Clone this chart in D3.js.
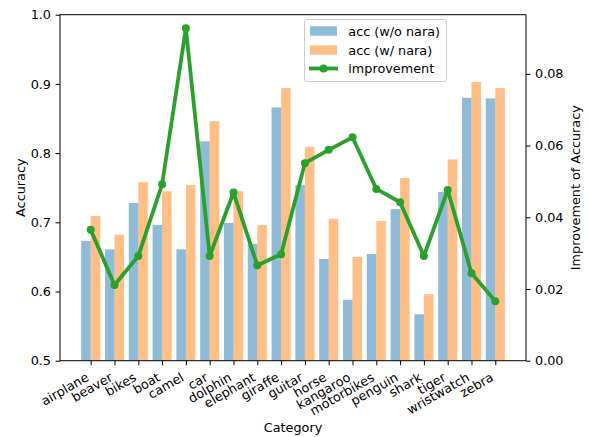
<!DOCTYPE html>
<html>
<head>
<meta charset="utf-8">
<script src="https://cdn.jsdelivr.net/npm/d3@7"></script>
<style>
  html, body { margin: 0; padding: 0; background: #fff; }
  svg { display: block; }
  text { font-family: "DejaVu Sans", sans-serif; fill: #000; }
</style>
</head>
<body>
<svg id="chart" width="589" height="437"></svg>
<script>
// Per-category accuracy with and without nara, plus the improvement
const categories = ["airplane", "beaver", "bikes", "boat", "camel", "car", "dolphin", "elephant",
  "giraffe", "guitar", "horse", "kangaroo", "motorbikes", "penguin", "shark", "tiger",
  "wristwatch", "zebra"];
const accWithout = [0.673, 0.661, 0.728, 0.696, 0.661, 0.817, 0.699, 0.669,
  0.866, 0.754, 0.647, 0.588, 0.654, 0.719, 0.567, 0.744, 0.880, 0.879];
const accWith = [0.709, 0.682, 0.758, 0.745, 0.754, 0.846, 0.745, 0.696,
  0.894, 0.809, 0.705, 0.650, 0.702, 0.764, 0.596, 0.791, 0.903, 0.894];
const improvement = [0.0365, 0.0211, 0.0292, 0.0492, 0.0927, 0.0292, 0.0469, 0.0266,
  0.0297, 0.0551, 0.0588, 0.0623, 0.0479, 0.0442, 0.0292, 0.0476, 0.0244, 0.0166];
const accTicks = [0.5, 0.6, 0.7, 0.8, 0.9, 1.0];
const impTicks = [0.00, 0.02, 0.04, 0.06, 0.08];
const seriesNames = ["acc (w/o nara)", "acc (w/ nara)", "improvement"];

const FONT = 12.8;
const plot = { left: 60, right: 526, top: 14.7, bottom: 360.7 };
const barW = 0.4;
const colBlue = "#1f77b4", colOrange = "#ff7f0e", colGreen = "#2ca02c";

const svg = d3.select("#chart");

const x = d3.scaleLinear().domain([-1.29, 18.29]).range([plot.left, plot.right]);
const yL = d3.scaleLinear().domain([0.5, 1.0]).range([plot.bottom, plot.top]);
const yR = d3.scaleLinear().domain([0, 0.0965]).range([plot.bottom, plot.top]);

const clip = svg.append("clipPath").attr("id", "plotclip")
  .append("rect").attr("x", plot.left).attr("y", plot.top)
  .attr("width", plot.right - plot.left).attr("height", plot.bottom - plot.top);

const gBars = svg.append("g").attr("clip-path", "url(#plotclip)");

// Bars: without nara on the left half, with nara on the right half of each slot
gBars.selectAll("rect.wo").data(accWithout).join("rect")
  .attr("class", "wo")
  .attr("x", (d, i) => x(i - barW))
  .attr("width", (d, i) => x(i) - x(i - barW))
  .attr("y", d => yL(d))
  .attr("height", d => yL(0.5) - yL(d))
  .attr("fill", colBlue).attr("fill-opacity", 0.5);

gBars.selectAll("rect.w").data(accWith).join("rect")
  .attr("class", "w")
  .attr("x", (d, i) => x(i))
  .attr("width", (d, i) => x(i + barW) - x(i))
  .attr("y", d => yL(d))
  .attr("height", d => yL(0.5) - yL(d))
  .attr("fill", colOrange).attr("fill-opacity", 0.5);

// Improvement line on the secondary axis
const line = d3.line().x((d, i) => x(i)).y(d => yR(d));
svg.append("path").datum(improvement)
  .attr("d", line).attr("fill", "none")
  .attr("stroke", colGreen).attr("stroke-width", 3.8)
  .attr("stroke-linejoin", "round").attr("stroke-linecap", "square");
svg.selectAll("circle.imp").data(improvement).join("circle")
  .attr("class", "imp")
  .attr("cx", (d, i) => x(i)).attr("cy", d => yR(d))
  .attr("r", 4).attr("fill", colGreen);

// Axes
const tickLen = 4.5, tickPad = 4.5;
const xAxis = d3.axisBottom(x)
  .tickValues(d3.range(categories.length))
  .tickFormat(i => categories[i])
  .tickSize(tickLen).tickSizeOuter(0);
const gx = svg.append("g").attr("transform", `translate(0,${plot.bottom})`).call(xAxis);
gx.select(".domain").remove();
gx.selectAll(".tick line").attr("stroke", "#000").attr("stroke-width", 1);
gx.selectAll(".tick text")
  .attr("font-size", FONT)
  .attr("fill", "#000")
  .attr("text-anchor", "end")
  .attr("y", null).attr("dy", null)
  .attr("transform", `translate(-1.5,${tickLen + tickPad + 10.2}) rotate(-30)`);

const yAxisL = d3.axisLeft(yL).tickValues(accTicks).tickFormat(d3.format(".1f"))
  .tickSize(tickLen).tickPadding(tickPad);
const gyl = svg.append("g").attr("transform", `translate(${plot.left},0)`).call(yAxisL);
gyl.select(".domain").remove();
gyl.selectAll(".tick line").attr("stroke", "#000").attr("stroke-width", 1);
gyl.selectAll(".tick text").attr("font-size", FONT).attr("fill", "#000");

const yAxisR = d3.axisRight(yR).tickValues(impTicks).tickFormat(d3.format(".2f"))
  .tickSize(tickLen).tickPadding(tickPad);
const gyr = svg.append("g").attr("transform", `translate(${plot.right},0)`).call(yAxisR);
gyr.select(".domain").remove();
gyr.selectAll(".tick line").attr("stroke", "#000").attr("stroke-width", 1);
gyr.selectAll(".tick text").attr("font-size", FONT).attr("fill", "#000");

// Frame
svg.append("rect")
  .attr("x", plot.left).attr("y", plot.top)
  .attr("width", plot.right - plot.left).attr("height", plot.bottom - plot.top)
  .attr("fill", "none").attr("stroke", "#000").attr("stroke-width", 1);

// Axis titles
svg.append("text").attr("x", (plot.left + plot.right) / 2).attr("y", 432)
  .attr("text-anchor", "middle").attr("font-size", FONT).text("Category");
svg.append("text")
  .attr("transform", `translate(24.5,${(plot.top + plot.bottom) / 2}) rotate(-90)`)
  .attr("text-anchor", "middle").attr("font-size", FONT).text("Accuracy");
svg.append("text")
  .attr("transform", `translate(580,${(plot.top + plot.bottom) / 2}) rotate(-90)`)
  .attr("text-anchor", "middle").attr("font-size", FONT).text("Improvement of Accuracy");

// Legend
const leg = svg.append("g");
leg.append("rect").attr("x", 304.5).attr("y", 19.5).attr("width", 142).attr("height", 62)
  .attr("rx", 2.5).attr("fill", "#fff").attr("fill-opacity", 0.8)
  .attr("stroke", "#cccccc").attr("stroke-width", 1);
const rowY = [31, 50, 68.5];
leg.append("rect").attr("x", 310).attr("y", rowY[0] - 4.7).attr("width", 27).attr("height", 9.4)
  .attr("fill", colBlue).attr("fill-opacity", 0.5);
leg.append("rect").attr("x", 310).attr("y", rowY[1] - 4.7).attr("width", 27).attr("height", 9.4)
  .attr("fill", colOrange).attr("fill-opacity", 0.5);
leg.append("line").attr("x1", 309).attr("x2", 338).attr("y1", rowY[2]).attr("y2", rowY[2])
  .attr("stroke", colGreen).attr("stroke-width", 3.8);
leg.append("circle").attr("cx", 323.5).attr("cy", rowY[2]).attr("r", 4).attr("fill", colGreen);
leg.selectAll("text.lt").data(seriesNames).join("text")
  .attr("class", "lt")
  .attr("x", 348.3).attr("y", (d, i) => rowY[i] + 4.6)
  .attr("font-size", FONT).text(d => d);
</script>
</body>
</html>
